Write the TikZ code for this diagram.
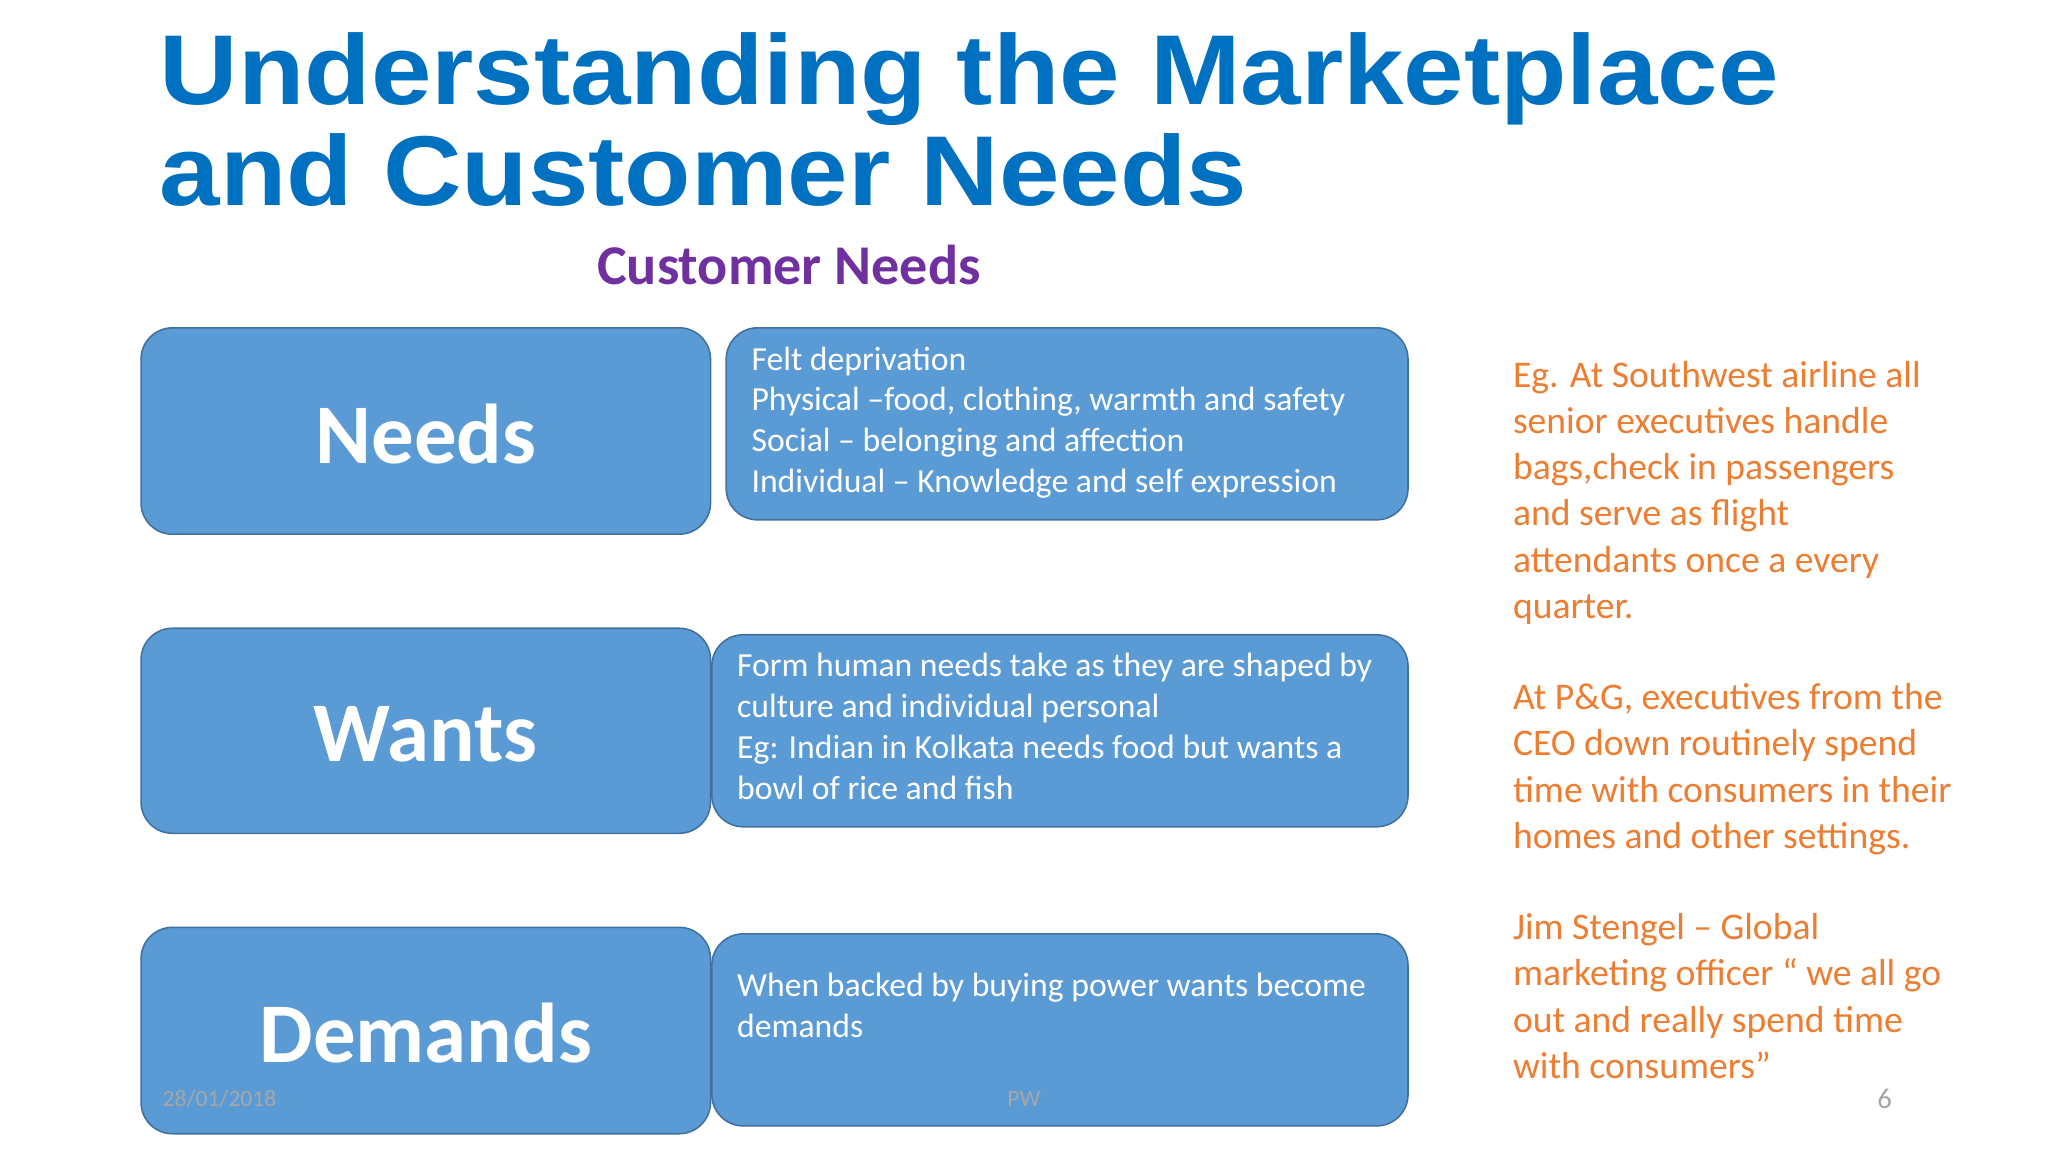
\documentclass[tikz,border=0pt]{standalone}
\usepackage{fontspec}
\setmainfont{Carlito}
\newfontfamily\titlefont{Liberation Sans}
\definecolor{boxblue}{HTML}{5B9BD5}
\definecolor{boxedge}{HTML}{41719C}
\definecolor{titleblue}{HTML}{0070C0}
\definecolor{purp}{HTML}{7030A0}
\definecolor{orng}{HTML}{ED7D31}
\begin{document}
\begin{tikzpicture}[x=0.5pt,y=-0.5pt,
  bigbox/.style={draw=boxedge,line width=0.6pt,fill=boxblue,rounded corners=12pt},
  biglabel/.style={text=white,font=\fontsize{32.5}{40}\selectfont\bfseries},
  desc/.style={text=white,font=\fontsize{12.9}{15.6}\selectfont,align=left,anchor=north west,inner sep=0pt},
  side/.style={text=orng,font=\fontsize{14.4}{17.7}\selectfont,align=left,anchor=north west,inner sep=0pt},
  foot/.style={text=gray!70,font=\fontsize{9}{10}\selectfont}]
\useasboundingbox (0,0) rectangle (1568,882);
\node[anchor=base west,inner sep=0pt,text=titleblue,font=\titlefont\fontsize{38}{40}\selectfont\bfseries] (t1) at (122,80) {\scalebox{1.095}[1]{Understanding the Marketplace}};
\node[anchor=base west,inner sep=0pt,text=titleblue,font=\titlefont\fontsize{38}{40}\selectfont\bfseries] (t2) at (122,157) {\scalebox{1.095}[1]{and Customer Needs}};
\node[text=purp,font=\fontsize{21.5}{24}\selectfont\bfseries] (sub) at (604,203) {Customer Needs};

\draw[bigbox] (108,251) rectangle (544,409);
\node[biglabel] (needs) at (326,332) {Needs};
\draw[bigbox] (556,251) rectangle (1078,398);
\node[desc] (nd) at (575,265) {Felt deprivation\\Physical –food, clothing, warmth and safety\\Social – belonging and affection\\Individual – Knowledge and self expression};

\draw[bigbox] (108,481) rectangle (544,638);
\node[biglabel] (wants) at (326,562) {Wants};
\draw[bigbox] (545,486) rectangle (1078,633);
\node[desc] (wd) at (564,500) {Form human needs take as they are shaped by\\culture and individual personal\\Eg: Indian in Kolkata needs food but wants a\\bowl of rice and fish};

\draw[bigbox] (108,710) rectangle (544,868);
\node[biglabel] (dem) at (326,791) {Demands};
\draw[bigbox] (545,715) rectangle (1078,862);
\node[desc] (dd) at (564,745) {When backed by buying power wants become\\demands};

\node[side] (s1) at (1158,276) {Eg. At Southwest airline all\\senior executives handle\\bags,check in passengers\\and serve as flight\\attendants once a every\\quarter.};
\node[side] (s2) at (1158,523) {At P\&G, executives from the\\CEO down routinely spend\\time with consumers in their\\homes and other settings.};
\node[side] (s3) at (1158,699) {Jim Stengel – Global\\marketing officer “ we all go\\out and really spend time\\with consumers”};

\node[foot] (date) at (168,841) {28/01/2018};
\node[foot] (pw) at (784,841) {PW};
\node[foot,font=\fontsize{11}{12}\selectfont] (pg) at (1443,841) {6};
\end{tikzpicture}
\end{document}
